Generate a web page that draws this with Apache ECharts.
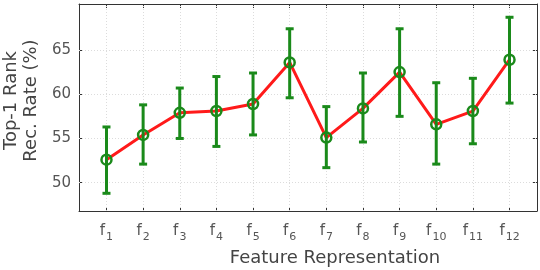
<!DOCTYPE html>
<html>
<head>
<meta charset="utf-8">
<script src="https://cdn.jsdelivr.net/npm/echarts@6/dist/echarts.min.js"></script>
<style>html,body{margin:0;padding:0;background:#fff}#c{width:540px;height:270px}</style>
</head>
<body>
<div id="c"></div>
<script>
const categories = [1,2,3,4,5,6,7,8,9,10,11,12];
const rates = [52.6, 55.4, 57.9, 58.1, 58.9, 63.6, 55.1, 58.4, 62.5, 56.6, 58.1, 63.9];
const upper = [56.3, 58.8, 60.7, 62.0, 62.4, 67.4, 58.6, 62.4, 67.4, 61.3, 61.8, 68.7];
const lower = [48.8, 52.1, 55.0, 54.1, 55.4, 59.6, 51.7, 54.6, 57.5, 52.1, 54.4, 59.0];
const yTicks = [50, 55, 60, 65];
const xTitle = 'Feature Representation';
const yTitle = 'Top-1 Rank\nRec. Rate (%)';

const green = '#1a8a1a';
const red = '#ff1a1a';
const txt = '#555';
const font = 'DejaVu Sans';

const chart = echarts.init(document.getElementById('c'), null, {renderer: 'canvas'});

const frameLine = {show: true, lineStyle: {color: '#333', width: 1}};
const gridStyle = {color: '#dcdcdc', type: [1, 2], width: 1};

chart.setOption({
  animation: false,
  backgroundColor: '#fff',
  grid: {left: 79, top: 4, right: 3, bottom: 59, containLabel: false, outerBoundsMode: 'none'},
  xAxis: [{
    type: 'value', min: 0.25, max: 12.75, position: 'bottom',
    axisLine: frameLine,
    axisTick: {show: true, inside: true, length: 4, customValues: categories, lineStyle: {color: '#333'}},
    splitLine: {show: false},
    axisLabel: {
      customValues: categories, margin: 9, color: txt, fontFamily: font,
      formatter: v => '{f|f}{s|' + v + '}',
      rich: {
        f: {fontSize: 15, color: txt, fontFamily: font, padding: [0, 1, 0, 0]},
        s: {fontSize: 11, color: txt, fontFamily: font, padding: [12, 0, 0, 0]}
      }
    },
    name: xTitle, nameLocation: 'middle', nameGap: 38,
    nameTextStyle: {fontSize: 18, color: '#444', fontFamily: font, padding: [0, 0, 0, 54]}
  }, {
    type: 'value', min: 0.25, max: 12.75, position: 'top',
    axisLine: frameLine,
    axisTick: {show: true, inside: true, length: 4, customValues: categories, lineStyle: {color: '#333'}},
    axisLabel: {show: false},
    splitLine: {show: false}
  }],
  yAxis: [{
    type: 'value', min: 46.8, max: 70.2, position: 'left',
    axisLine: frameLine,
    axisTick: {show: true, inside: true, length: 4, customValues: yTicks, lineStyle: {color: '#333'}},
    splitLine: {show: false},
    axisLabel: {customValues: yTicks, fontSize: 15, color: txt, fontFamily: font, margin: 8},
    name: yTitle, nameLocation: 'middle', nameGap: 32, nameRotate: 90,
    nameTextStyle: {fontSize: 18, lineHeight: 20, color: '#444', fontFamily: font, padding: [0, 0, 0, 14]}
  }, {
    type: 'value', min: 46.8, max: 70.2, position: 'right',
    axisLine: frameLine,
    axisTick: {show: true, inside: true, length: 4, customValues: yTicks, lineStyle: {color: '#333'}},
    axisLabel: {show: false},
    splitLine: {show: false}
  }],
  series: [{
    type: 'line',
    data: categories.map((c, i) => [c, rates[i]]),
    lineStyle: {color: red, width: 3},
    symbol: 'none',
    z: 2,
    markLine: {
      silent: true, symbol: 'none', label: {show: false}, z: 1,
      lineStyle: gridStyle,
      emphasis: {disabled: true},
      data: categories.map(c => ({xAxis: c})).concat(yTicks.map(t => ({yAxis: t})))
    }
  }, {
    type: 'custom',
    z: 3,
    data: categories.map((c, i) => [c, lower[i], upper[i], rates[i]]),
    renderItem: function (params, api) {
      const x = api.value(0);
      const lo = api.coord([x, api.value(1)]);
      const hi = api.coord([x, api.value(2)]);
      const mid = api.coord([x, api.value(3)]);
      const hw = 4;
      const st = {stroke: green, lineWidth: 3, fill: null};
      return {
        type: 'group',
        children: [
          {type: 'line', shape: {x1: hi[0], y1: hi[1], x2: lo[0], y2: lo[1]}, style: st},
          {type: 'line', shape: {x1: hi[0] - hw, y1: hi[1], x2: hi[0] + hw, y2: hi[1]}, style: st},
          {type: 'line', shape: {x1: lo[0] - hw, y1: lo[1], x2: lo[0] + hw, y2: lo[1]}, style: st},
          {type: 'circle', shape: {cx: mid[0], cy: mid[1], r: 5}, style: {stroke: green, lineWidth: 2.5, fill: 'rgba(0,0,0,0)'}}
        ]
      };
    }
  }]
});
</script>
</body>
</html>
